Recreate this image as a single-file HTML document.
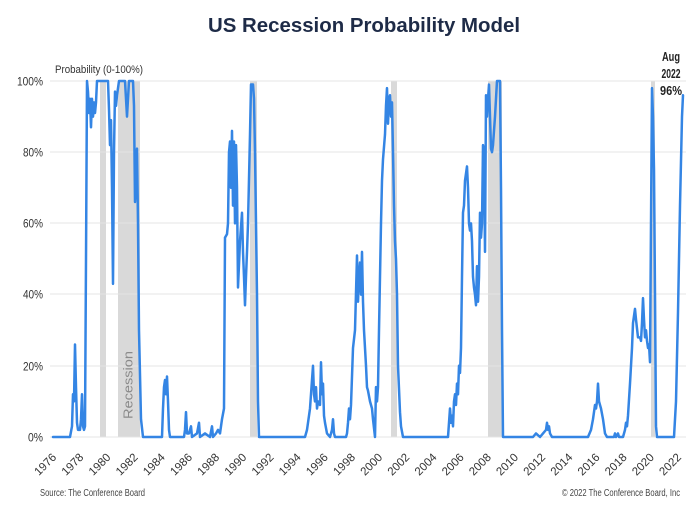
<!DOCTYPE html>
<html>
<head>
<meta charset="utf-8">
<style>
  html,body{margin:0;padding:0;background:#fff;}
  svg{display:block;}
  text{font-family:"Liberation Sans", Arial, sans-serif;}
</style>
</head>
<body>
<svg width="700" height="529" viewBox="0 0 700 529" xmlns="http://www.w3.org/2000/svg">
  <rect x="0" y="0" width="700" height="529" fill="#ffffff"/>

  <!-- Title -->
  <text x="208" y="32" font-size="20" font-weight="bold" fill="#1e2b47" textLength="312" lengthAdjust="spacingAndGlyphs">US Recession Probability Model</text>

  <!-- recession bands -->
  <g fill="#d9d9d9">
    <rect x="100" y="81" width="6" height="356"/>
    <rect x="118" y="81" width="22" height="356"/>
    <rect x="250" y="81" width="7" height="356"/>
    <rect x="391" y="81" width="6" height="356"/>
    <rect x="488" y="81" width="14" height="356"/>
    <rect x="651" y="81" width="4" height="356"/>
  </g>

  <!-- gridlines -->
  <g stroke="#e4e4e4" stroke-width="1">
    <line x1="50" y1="81" x2="686" y2="81"/>
    <line x1="50" y1="152" x2="686" y2="152"/>
    <line x1="50" y1="223" x2="686" y2="223"/>
    <line x1="50" y1="294" x2="686" y2="294"/>
    <line x1="50" y1="366" x2="686" y2="366"/>
    <line x1="50" y1="437" x2="686" y2="437"/>
  </g>

  <!-- Recession label -->
  <text transform="translate(132.5,385) rotate(-90)" text-anchor="middle" font-size="13" fill="#8a8a8a" textLength="68" lengthAdjust="spacingAndGlyphs">Recession</text>

  <!-- y axis labels -->
  <g font-size="12" fill="#333" text-anchor="end">
    <text x="43" y="85.5" textLength="26" lengthAdjust="spacingAndGlyphs">100%</text>
    <text x="43" y="156.5" textLength="20" lengthAdjust="spacingAndGlyphs">80%</text>
    <text x="43" y="227.5" textLength="20" lengthAdjust="spacingAndGlyphs">60%</text>
    <text x="43" y="298.5" textLength="20" lengthAdjust="spacingAndGlyphs">40%</text>
    <text x="43" y="370.5" textLength="20" lengthAdjust="spacingAndGlyphs">20%</text>
    <text x="43" y="441.5" textLength="15" lengthAdjust="spacingAndGlyphs">0%</text>
  </g>

  <text x="55" y="73" font-size="11" fill="#333" textLength="88" lengthAdjust="spacingAndGlyphs">Probability (0-100%)</text>

  <!-- x axis labels -->
  <g font-size="11.5" fill="#333" text-anchor="end">
    <text transform="translate(57,458) rotate(-45)">1976</text>
    <text transform="translate(84.17,458) rotate(-45)">1978</text>
    <text transform="translate(111.34,458) rotate(-45)">1980</text>
    <text transform="translate(138.51,458) rotate(-45)">1982</text>
    <text transform="translate(165.68,458) rotate(-45)">1984</text>
    <text transform="translate(192.85,458) rotate(-45)">1986</text>
    <text transform="translate(220.02,458) rotate(-45)">1988</text>
    <text transform="translate(247.19,458) rotate(-45)">1990</text>
    <text transform="translate(274.36,458) rotate(-45)">1992</text>
    <text transform="translate(301.53,458) rotate(-45)">1994</text>
    <text transform="translate(328.7,458) rotate(-45)">1996</text>
    <text transform="translate(355.87,458) rotate(-45)">1998</text>
    <text transform="translate(383.04,458) rotate(-45)">2000</text>
    <text transform="translate(410.21,458) rotate(-45)">2002</text>
    <text transform="translate(437.38,458) rotate(-45)">2004</text>
    <text transform="translate(464.55,458) rotate(-45)">2006</text>
    <text transform="translate(491.72,458) rotate(-45)">2008</text>
    <text transform="translate(518.89,458) rotate(-45)">2010</text>
    <text transform="translate(546.06,458) rotate(-45)">2012</text>
    <text transform="translate(573.23,458) rotate(-45)">2014</text>
    <text transform="translate(600.4,458) rotate(-45)">2016</text>
    <text transform="translate(627.57,458) rotate(-45)">2018</text>
    <text transform="translate(654.74,458) rotate(-45)">2020</text>
    <text transform="translate(681.91,458) rotate(-45)">2022</text>
  </g>

  <!-- series -->
  <g transform="translate(0,437) scale(1,-3.56)">
    <polyline fill="none" stroke="#3485e4" stroke-width="2.5" stroke-linejoin="round" stroke-linecap="round" vector-effect="non-scaling-stroke"
      points="53,0 70,0 72,3 73,12 74,10 75,26 76,14 77,4 78,2 80,2 81,5 82,12 83,3 84,2 85,3 86,50 87,100 88,97 89,91 90,95 91,87 92,95 93,90 94,94 95,91 96,94 97,100 108,100 109,92 110,82 111,89 112,70 113,43 114,80 115,97 116,93 117,96 119,100 125,100 127,90 129,100 133,100 134,93 135,66 136,72 137,81 138,60 139,30 141,5 143,0 162,0 163,8 164,14 165,16 166,12 167,17 168,10 169,2 170,0 184,0 185,2 186,7 187,1 189,1 191,3 192,0 197,1 199,4 200,0 205,1 210,0 212,3 213,0 216,1 218,2 220,1 222,5 224,8 225,56 227,57 228,60 229,80 230,83 231,70 232,86 233,65 234,83 235,60 236,82 237,70 238,42 240,55 242,63 243,52 244,45 245,37 246,45 247,52 248,60 250,85 251,99 253,99 254,95 255,80 257,40 258,10 259,0 305,0 307,2 310,8 313,20 314,12 315,10 316,14 317,8 318,10 320,9 321,21 322,12 323,15 324,6 325,4 327,1 330,0 332,2 333,5 334,1 335,0 346,0 347,1 348,4 349,8 350,5 351,9 353,25 355,30 357,51 358,38 359,45 360,49 361,40 362,52 363,38 364,30 366,20 367,14 368,13 370,10 372,8 373,5 375,0 376,14 377,10 378,14 379,30 381,60 382,72 383,78 385,85 386,93 387,98 388,88 389,95 390,96 391,90 392,94 393,80 394,65 395,55 396,50 397,40 398,20 400,7 401,3 403,0 448,0 450,8 451,4 452,6 453,3 454,10 455,12 456,9 457,15 458,12 459,20 460,18 461,25 462,45 463,63 464,65 465,72 467,76 468,70 469,60 470,58 471,60 472,55 473,45 474,42 475,40 476,37 477,48 478,38 479,45 480,63 481,56 482,60 483,82 484,80 485,52 486,96 487,90 488,95 489,99 490,90 491,81 492,80 493,82 495,90 497,100 500,100 501,70 502,30 503,0 533,0 536,1 540,0 543,1 546,2 547,4 548,2 549,3 550,1 552,0 588,0 591,2 593,5 595,9 596,8 597,10 598,15 599,10 600,9 601,8 603,5 605,1 607,0 614,0 615,1 616,0 618,1 619,0 623,0 625,2 626,4 627,3 628,6 630,15 632,25 633,32 635,36 636,33 638,28 640,28 641,27 642,32 643,39 644,33 645,28 646,30 647,27 648,25 649,26 650,21 651,60 652,98 653,90 654,75 655,40 656,3 657,0 674,0 676,10 678,35 680,65 682,90 683,96"/>
  </g>

  <!-- annotation -->
  <g font-size="12.5" font-weight="bold" fill="#222" text-anchor="middle">
    <text x="671" y="61" textLength="18" lengthAdjust="spacingAndGlyphs">Aug</text>
    <text x="671" y="78" textLength="19" lengthAdjust="spacingAndGlyphs">2022</text>
    <text x="671" y="95" textLength="22" lengthAdjust="spacingAndGlyphs">96%</text>
  </g>

  <!-- footer -->
  <text x="40" y="496" font-size="10" fill="#444" textLength="105" lengthAdjust="spacingAndGlyphs">Source: The Conference Board</text>
  <text x="562" y="496" font-size="10" fill="#444" textLength="118" lengthAdjust="spacingAndGlyphs">© 2022 The Conference Board, Inc</text>
</svg>
</body>
</html>
